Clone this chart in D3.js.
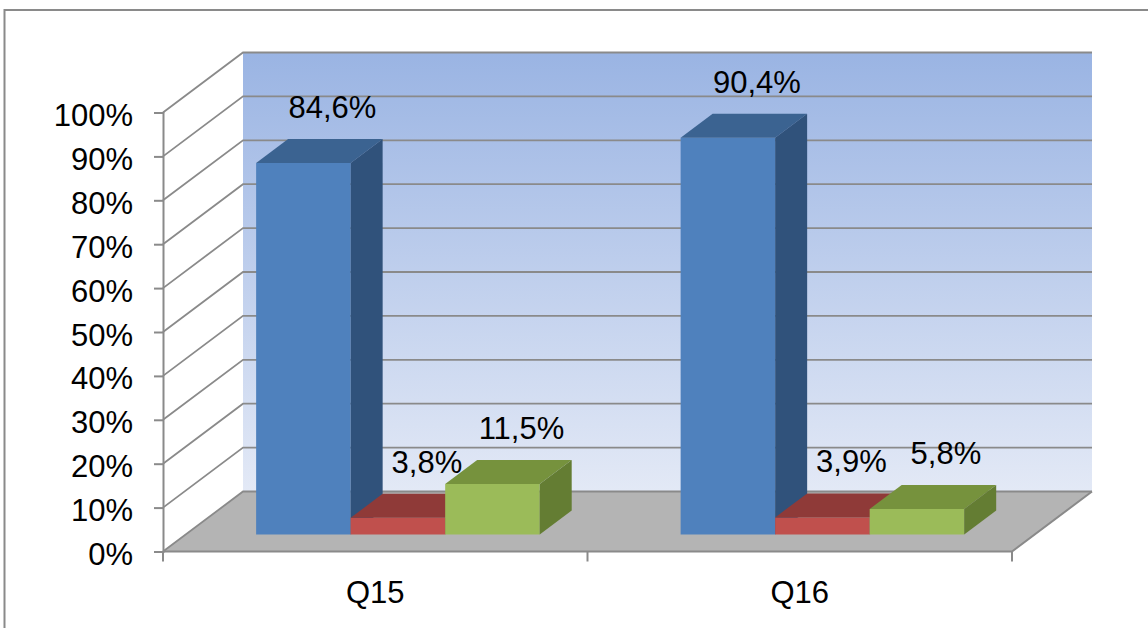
<!DOCTYPE html>
<html><head><meta charset="utf-8">
<script src="https://cdn.jsdelivr.net/npm/d3@7"></script>
<style>body{margin:0;background:#fff;} svg{display:block;}</style>
</head><body><svg id="chart" width="1148" height="628"></svg>
<script>
// ---- data ----
const categories = ["Q15", "Q16"];
const seriesNames = ["Série 1", "Série 2", "Série 3"];
const series1 = [0.846, 0.904];
const series2 = [0.038, 0.039];
const series3 = [0.115, 0.058];
const yTicks = [0, 0.1, 0.2, 0.3, 0.4, 0.5, 0.6, 0.7, 0.8, 0.9, 1.0];

// ---- styles ----
const faceColors = [
  {front: "#4F81BD", top: "#3B6391", side: "#30527B"},
  {front: "#C0504D", top: "#8F3A38", side: "#7E3331"},
  {front: "#9BBB59", top: "#76923D", side: "#647D33"}
];
const FONT = "'Liberation Sans', Arial, sans-serif";
const FS = 31;

const locale = d3.formatLocale({decimal: ",", thousands: ".", grouping: [3], currency: ["", "€"]});
const pct1 = locale.format(".1%");
const pct0 = locale.format(".0%");

const svg = d3.select("#chart");

// outer frame
svg.append("rect").attr("x", 4.5).attr("y", 10).attr("width", 1170).attr("height", 640)
  .attr("fill", "#fff").attr("stroke", "#8a8a8a").attr("stroke-width", 2);

// ---- geometry ----
const X0 = 163, X1 = 1012, Y0 = 551.5, H = 439;
const DEPTH_Y = 60, DEPTH_X = 80;
const y = d3.scaleLinear().domain([0, 1]).range([Y0, Y0 - H]);
const x = d3.scaleBand().domain(categories).range([X0, X1]).paddingInner(0.332).paddingOuter(0.166);
const xs = d3.scaleBand().domain(seriesNames).range([0, x.bandwidth()]);
function P(px, v, dz) { return [px + dz * DEPTH_X / DEPTH_Y, y(v) - dz]; }
const line = d3.line();

// back wall gradient
const defs = svg.append("defs");
const grad = defs.append("linearGradient").attr("id", "wall").attr("x1", 0).attr("y1", 0).attr("x2", 0).attr("y2", 1);
grad.append("stop").attr("offset", "0%").attr("stop-color", "#9AB4E3");
grad.append("stop").attr("offset", "100%").attr("stop-color", "#E3E9F6");

const bwTL = P(X0, 1, DEPTH_Y), bwBR = P(X1, 0, DEPTH_Y);
svg.append("rect").attr("x", bwTL[0]).attr("y", bwTL[1])
  .attr("width", bwBR[0] - bwTL[0]).attr("height", bwBR[1] - bwTL[1])
  .attr("fill", "url(#wall)");

// floor
svg.append("path")
  .attr("d", line([P(X0, 0, 0), P(X1, 0, 0), P(X1, 0, DEPTH_Y), P(X0, 0, DEPTH_Y)]) + "Z")
  .attr("fill", "#B4B4B4");

const gridColor = "#8A8A8A";
// back gridlines and side-wall diagonals
yTicks.forEach(t => {
  svg.append("path").attr("d", line([P(X0, t, 0), P(X0, t, DEPTH_Y), P(X1, t, DEPTH_Y)]))
    .attr("fill", "none").attr("stroke", gridColor).attr("stroke-width", 1.8);
});
// floor front and right edge
svg.append("path").attr("d", line([P(X0, 0, 0), P(X1, 0, 0), P(X1, 0, DEPTH_Y)]))
  .attr("fill", "none").attr("stroke", gridColor).attr("stroke-width", 2);

// y axis
const yAxis = d3.axisLeft(y).tickValues(yTicks).tickFormat(pct0).tickSize(9).tickPadding(21);
const gy = svg.append("g").attr("transform", `translate(${X0},0)`).call(yAxis);
gy.select(".domain").attr("stroke", gridColor).attr("stroke-width", 2);
gy.selectAll(".tick line").attr("stroke", gridColor).attr("stroke-width", 2);
gy.selectAll(".tick text").attr("font-family", FONT).attr("font-size", FS).attr("fill", "#000")
  .attr("dy", "0.42em");

// x axis ticks at category boundaries
const bounds = [X0].concat(categories.map(c => x(c) - x.step() * x.paddingInner() / 2 + x.step()));
bounds[bounds.length - 1] = X1;
bounds.forEach(bx => {
  svg.append("line").attr("x1", bx).attr("x2", bx).attr("y1", Y0).attr("y2", Y0 + 10)
    .attr("stroke", gridColor).attr("stroke-width", 2);
});
svg.selectAll(".cat").data(categories).enter().append("text")
  .attr("x", c => x(c) + x.bandwidth() / 2).attr("y", 603)
  .attr("text-anchor", "middle").attr("font-family", FONT).attr("font-size", FS)
  .attr("fill", "#000").text(c => c);

// ---- bars ----
const ZF = 17, ZB = 41;
const allSeries = [series1, series2, series3];
const labels = [];
categories.forEach((c, ci) => {
  allSeries.forEach((s, si) => {
    const v = s[ci];
    const xl = x(c) + xs(seriesNames[si]);
    const xr = xl + xs.bandwidth();
    const col = faceColors[si];
    const g = svg.append("g");
    // front
    g.append("path").attr("d", line([P(xl, 0, ZF), P(xr, 0, ZF), P(xr, v, ZF), P(xl, v, ZF)]) + "Z")
      .attr("fill", col.front);
    // top
    g.append("path").attr("d", line([P(xl, v, ZF), P(xr, v, ZF), P(xr, v, ZB), P(xl, v, ZB)]) + "Z")
      .attr("fill", col.top);
    // side
    g.append("path").attr("d", line([P(xr, 0, ZF), P(xr, 0, ZB), P(xr, v, ZB), P(xr, v, ZF)]) + "Z")
      .attr("fill", col.side);
    const backTop = P((xl + xr) / 2, v, ZB);
    labels.push({x: backTop[0] - 3, y: backTop[1] - 21, t: pct1(v)});
  });
});
svg.selectAll(".vlab").data(labels).enter().append("text")
  .attr("x", d => d.x).attr("y", d => d.y).attr("text-anchor", "middle")
  .attr("font-family", FONT).attr("font-size", FS).attr("fill", "#000")
  .text(d => d.t);
</script>
</body></html>
